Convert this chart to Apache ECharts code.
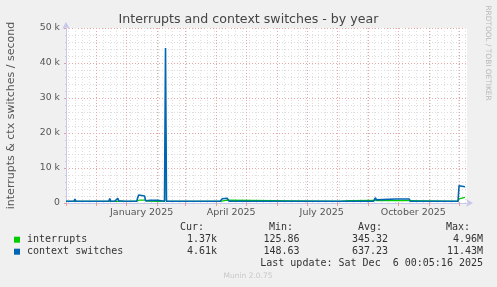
<!DOCTYPE html>
<html><head><meta charset="utf-8">
<script src="https://cdn.jsdelivr.net/npm/echarts@6/dist/echarts.min.js"></script>
<style>html,body{margin:0;padding:0;background:#f0f0f0;}#c{width:497px;height:287px;}</style>
</head><body><div id="c"></div>
<script>
// ---- data ----
const seriesNames = ['interrupts', 'context switches'];
const seriesColors = ['#00cc00', '#0066b3'];

const ctxDates = ['2024-11-01','2024-11-09','2024-11-10','2024-11-11','2024-11-23','2024-11-24','2024-11-25','2024-11-30','2024-12-01','2024-12-02','2024-12-14','2024-12-15','2024-12-16','2024-12-20','2024-12-21','2024-12-22','2024-12-23','2024-12-24','2024-12-25','2024-12-26','2024-12-30','2024-12-31','2025-01-01','2025-01-05','2025-01-06','2025-01-07','2025-01-11','2025-01-13','2025-01-14','2025-01-19','2025-01-20','2025-01-21','2025-01-22','2025-01-25','2025-01-27','2025-02-01','2025-02-03','2025-02-08','2025-02-09','2025-02-10','2025-03-09','2025-03-10','2025-03-11','2025-03-16','2025-03-17','2025-03-18','2025-03-22','2025-03-23','2025-03-24','2025-03-30','2025-03-31','2025-04-01','2025-04-05','2025-04-07','2025-04-09','2025-04-12','2025-04-14','2025-04-21','2025-04-22','2025-04-23','2025-04-27','2025-04-28','2025-04-29','2025-05-18','2025-05-19','2025-05-20','2025-05-31','2025-06-01','2025-06-02','2025-06-09','2025-06-10','2025-06-11','2025-06-16','2025-06-17','2025-06-18','2025-06-22','2025-06-23','2025-06-24','2025-06-28','2025-06-29','2025-06-30','2025-07-05','2025-07-06','2025-07-07','2025-07-13','2025-07-14','2025-07-15','2025-07-21','2025-07-22','2025-07-23','2025-08-12','2025-08-13','2025-08-14','2025-09-06','2025-09-08','2025-09-09','2025-09-10','2025-09-28','2025-09-29','2025-09-30','2025-10-12','2025-10-13','2025-10-26','2025-10-27','2025-10-28','2025-11-01','2025-11-02','2025-11-03','2025-11-09','2025-11-10','2025-11-11','2025-11-24','2025-11-25','2025-11-26','2025-11-30','2025-12-01','2025-12-02','2025-12-07'];
const ctxValues = [480,480,1150,480,480,950,480,480,1000,480,480,1250,480,480,1000,500,1350,600,1000,480,480,950,480,480,950,480,500,2300,2050,2000,600,450,850,750,850,800,480,480,44300,480,480,1000,480,480,950,480,480,950,480,480,1000,480,480,1200,1350,1350,480,480,1000,480,480,950,480,480,950,480,480,1000,480,480,1050,480,480,1050,480,480,1050,480,480,1050,480,480,1050,480,480,1050,480,480,1050,480,480,750,480,480,1500,900,1150,1150,1300,1150,1150,480,480,950,480,480,950,480,480,1000,480,480,950,480,480,4950,4750,4650];

const intDates = ['2024-11-01','2025-01-11','2025-01-13','2025-01-14','2025-01-19','2025-01-20','2025-01-22','2025-02-01','2025-02-03','2025-02-08','2025-02-09','2025-02-10','2025-04-05','2025-04-07','2025-04-12','2025-04-14','2025-08-03','2025-08-04','2025-08-12','2025-08-14','2025-08-15','2025-09-07','2025-09-08','2025-09-10','2025-10-12','2025-10-13','2025-11-30','2025-12-01','2025-12-02','2025-12-03','2025-12-07'];
const intValues = [480,480,950,850,850,450,500,480,480,480,21000,480,480,800,800,480,480,650,680,560,720,760,1000,700,700,480,480,1200,1250,1550,1600];

const yTickValues = [0, 10000, 20000, 30000, 40000, 50000];
const yTickLabels = ['0', '10 k', '20 k', '30 k', '40 k', '50 k'];
const xLabelDates = ['2025-01-16', '2025-04-16', '2025-07-16', '2025-10-16'];
const xLabelTexts = ['January 2025', 'April 2025', 'July 2025', 'October 2025'];

const curValues = ['1.37k', '4.61k'];
const minValues = ['125.86', '148.63'];
const avgValues = ['345.32', '637.23'];
const maxValues = ['4.96M', '11.43M'];
const lastUpdate = 'Last update: Sat Dec  6 00:05:16 2025';

// ---- helpers ----
function toTime(s) { const p = s.split('-').map(Number); return Date.UTC(p[0], p[1] - 1, p[2]); }
const T0 = toTime('2024-11-01');
const T1 = toTime('2025-12-09');
const monthTicks = [];
for (let m = 0; m <= 13; m++) monthTicks.push(Date.UTC(2024, 10 + m, 1));
const weekTicks = [];
for (let t = Date.UTC(2024, 10, 3); t < T1; t += 7 * 86400000) weekTicks.push(t);
const xLabelTimes = xLabelDates.map(toTime);

const SANS = '"DejaVu Sans"';
const MONO = '"DejaVu Sans Mono"';
const GL = 66, GT = 28, GW = 401, GH = 175;

const chart = echarts.init(document.getElementById('c'), null, { renderer: 'canvas' });

const graphics = [];
function txt(x, y, text, align, font, fill, rot) {
  graphics.push({ type: 'text', x: x, y: y, rotation: rot || 0, silent: true,
    style: { text: text, font: font, fill: fill, align: align, verticalAlign: 'middle', textAlign: align, textVerticalAlign: 'middle' } });
}
const legendFont = '10px ' + MONO;
const legendColor = '#333';
txt(204, 227, 'Cur:', 'right', legendFont, legendColor);
txt(293, 227, 'Min:', 'right', legendFont, legendColor);
txt(382, 227, 'Avg:', 'right', legendFont, legendColor);
txt(470, 227, 'Max:', 'right', legendFont, legendColor);
for (let i = 0; i < seriesNames.length; i++) {
  const y = 239.7 + i * 12;
  graphics.push({ type: 'rect', shape: { x: 14, y: y - 3, width: 6, height: 6 }, style: { fill: seriesColors[i] }, silent: true });
  txt(27, y, seriesNames[i], 'left', legendFont, legendColor);
  txt(217, y, curValues[i], 'right', legendFont, legendColor);
  txt(299.5, y, minValues[i], 'right', legendFont, legendColor);
  txt(388, y, avgValues[i], 'right', legendFont, legendColor);
  txt(483, y, maxValues[i], 'right', legendFont, legendColor);
}
txt(483, 263.5, lastUpdate, 'right', legendFont, legendColor);
txt(248, 276.5, 'Munin 2.0.75', 'center', '7.5px ' + SANS, '#c8c8c8');
txt(487.5, 53, 'RRDTOOL / TOBI OETIKER', 'center', '7.4px ' + SANS, '#b8b8b8', -Math.PI / 2);

const option = {
  animation: false,
  backgroundColor: '#f0f0f0',
  title: { text: 'Interrupts and context switches - by year', left: 'center', top: 13, padding: 0,
    textStyle: { fontFamily: SANS, fontSize: 12.6, fontWeight: 'normal', color: '#444' } },
  grid: { left: GL, top: GT, width: GW, height: GH, show: true, backgroundColor: '#ffffff', borderWidth: 0,
    containLabel: false, outerBoundsMode: 'none' },
  xAxis: [
    { type: 'value', min: T0, max: T1, position: 'bottom',
      axisLine: { show: false },
      axisTick: { show: false, customValues: weekTicks },
      axisLabel: { show: false, customValues: weekTicks },
      splitLine: { show: true, lineStyle: { color: '#e0e0e0', width: 1, type: [1, 2] } } },
    { type: 'value', min: T0, max: T1, position: 'bottom',
      axisLine: { show: true, lineStyle: { color: '#c8c8ec', width: 1 }, symbol: ['none', 'arrow'], symbolSize: [6, 7], symbolOffset: [0, 6] },
      axisTick: { show: true, inside: false, length: 3, customValues: monthTicks, lineStyle: { color: '#e4a0a0' } },
      axisLabel: { show: true, customValues: xLabelTimes, margin: 5, fontFamily: SANS, fontSize: 9.5, color: '#555',
        formatter: function (v) { const i = xLabelTimes.indexOf(v); return i >= 0 ? xLabelTexts[i] : ''; } },
      splitLine: { show: true, lineStyle: { color: '#e8a8a8', width: 1, type: [1, 2] } } }
  ],
  yAxis: { type: 'value', min: 0, max: 50000, interval: 10000,
    name: 'interrupts & ctx switches / second', nameLocation: 'middle', nameGap: 49,
    nameTextStyle: { fontFamily: SANS, fontSize: 11, color: '#555' },
    axisLine: { show: true, lineStyle: { color: '#c8c8ec', width: 1 }, symbol: ['none', 'arrow'], symbolSize: [6, 7], symbolOffset: [0, 6] },
    axisTick: { show: true, length: 2, lineStyle: { color: '#e4a0a0' } },
    minorTick: { show: true, splitNumber: 5, length: 1, lineStyle: { color: '#cccccc' } },
    axisLabel: { margin: 6, fontFamily: SANS, fontSize: 9.3, color: '#555',
      formatter: function (v) { const i = yTickValues.indexOf(v); return i >= 0 ? yTickLabels[i] : ''; } },
    splitLine: { show: true, lineStyle: { color: '#e8a8a8', width: 1, type: [1, 2] } },
    minorSplitLine: { show: true, lineStyle: { color: '#dcdcdc', width: 1, type: [1, 2] } } },
  series: [
    { name: seriesNames[0], type: 'line', xAxisIndex: 1, showSymbol: false, symbol: 'none',
      data: intDates.map((d, i) => [toTime(d), intValues[i]]),
      lineStyle: { color: seriesColors[0], width: 1.2 }, itemStyle: { color: seriesColors[0] }, z: 2 },
    { name: seriesNames[1], type: 'line', xAxisIndex: 1, showSymbol: false, symbol: 'none',
      data: ctxDates.map((d, i) => [toTime(d), ctxValues[i]]),
      lineStyle: { color: seriesColors[1], width: 1.6 }, itemStyle: { color: seriesColors[1] }, z: 6 }
  ],
  graphic: graphics
};
chart.setOption(option);
</script>
</body></html>
